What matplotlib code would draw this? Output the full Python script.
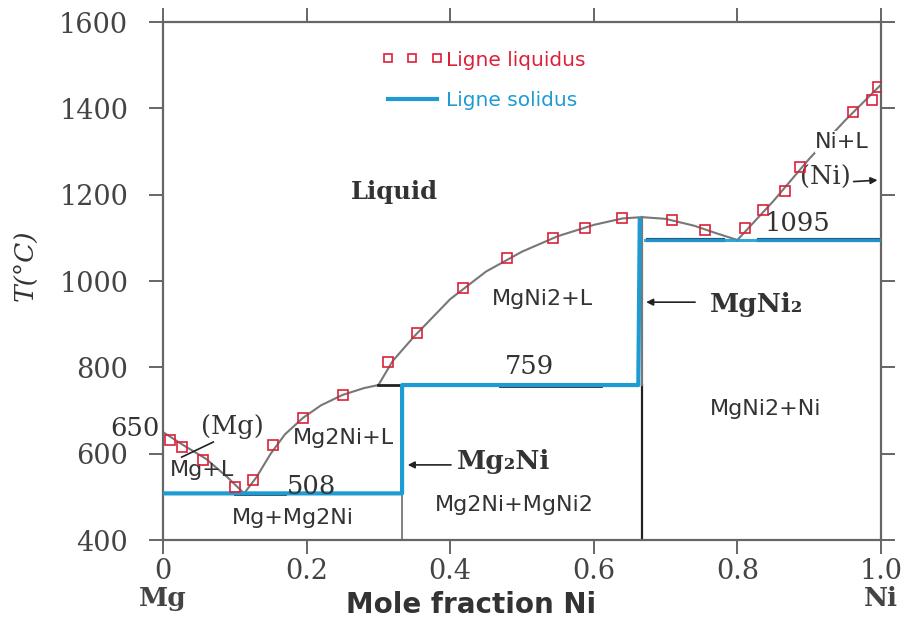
import matplotlib
matplotlib.use("Agg")
import matplotlib.pyplot as plt
from matplotlib.lines import Line2D

# ---------------- data ----------------
# liquidus curve (gray line), branches
liq_mg_x = [0.0, 0.03, 0.06, 0.09, 0.113]
liq_mg_t = [650, 618, 588, 545, 508]
liq_mg2ni_x = [0.113, 0.13, 0.15, 0.17, 0.195, 0.22, 0.25, 0.28, 0.30]
liq_mg2ni_t = [508, 545, 600, 645, 683, 712, 736, 752, 759]
liq_mgni2_x = [0.30, 0.32, 0.35, 0.40, 0.45, 0.50, 0.55, 0.60, 0.64, 0.667, 0.70, 0.74, 0.77, 0.80]
liq_mgni2_t = [759, 815, 872, 958, 1022, 1068, 1104, 1130, 1145, 1148, 1144, 1128, 1111, 1095]
liq_ni_x = [0.80, 0.85, 0.90, 0.95, 1.0]
liq_ni_t = [1095, 1185, 1283, 1372, 1455]

# measured liquidus points (red squares)
pts_x = [0.010, 0.026, 0.056, 0.100, 0.126, 0.153, 0.195, 0.251, 0.313, 0.354,
         0.418, 0.479, 0.543, 0.588, 0.639, 0.709, 0.755, 0.810, 0.836, 0.866,
         0.887, 0.961, 0.987, 0.996]
pts_t = [632, 616, 586, 523, 539, 620, 683, 736, 813, 880,
         984, 1053, 1100, 1123, 1146, 1141, 1118, 1123, 1164, 1208,
         1264, 1392, 1419, 1449]

# solidus (blue)
sol_x = [0.0, 0.333, 0.333, 0.662, 0.664]
sol_t = [508, 508, 759, 759, 1142]
sol2_x = [0.672, 1.0]
sol2_t = [1095, 1095]

# invariant temperatures
t_eut1, t_per, t_eut2 = 508, 759, 1095

xticks = [0, 0.2, 0.4, 0.6, 0.8, 1.0]
xticklabels = ["0", "0.2", "0.4", "0.6", "0.8", "1.0"]
yticks = [400, 600, 800, 1000, 1200, 1400, 1600]

GRAY = "#777777"
DARK = "#222222"
BLUE = "#1e9bd3"
RED = "#dc2038"
TXT = "#333333"
SERIF = "DejaVu Serif"
SANS = "DejaVu Sans"

fig = plt.figure(figsize=(9.06, 6.24), dpi=100)
ax = fig.add_axes([0.1799, 0.1346, 0.7925, 0.8301])
ax.set_xlim(0, 1.0)
ax.set_ylim(400, 1600)

# gray structural lines
for xs, ts in [(liq_mg_x, liq_mg_t), (liq_mg2ni_x, liq_mg2ni_t),
               (liq_mgni2_x, liq_mgni2_t), (liq_ni_x, liq_ni_t)]:
    ax.plot(xs, ts, color=GRAY, lw=1.5, zorder=2)
ax.plot([0.333, 0.333], [400, t_per], color=GRAY, lw=1.3, zorder=2)
ax.plot([0.667, 0.667], [400, t_per], color=DARK, lw=1.6, zorder=2)
ax.plot([0.667, 0.667], [t_per, 1148], color=GRAY, lw=1.6, zorder=2)
ax.plot([0.10, 0.17], [t_eut1 - 2, t_eut1 - 2], color=DARK, lw=2, zorder=2)
ax.plot([0.30, 0.333], [t_per, t_per], color=DARK, lw=2, zorder=2)
ax.plot([0.47, 0.61], [t_per - 3, t_per - 3], color=DARK, lw=2, zorder=2)
ax.plot([0.675, 0.78], [t_eut2, t_eut2], color="#245a80", lw=3, zorder=2)
ax.plot([0.83, 1.0], [t_eut2, t_eut2], color="#245a80", lw=3, zorder=2)
ax.plot([0.026, 0.07], [592, 627], color=DARK, lw=1.2, zorder=2)   # (Mg) leader

# solidus
ax.plot(sol_x, sol_t, color=BLUE, lw=3, zorder=3, solid_joinstyle="round")
ax.plot(sol2_x, sol2_t, color=BLUE, lw=2.2, zorder=3, alpha=0.9)

# measured liquidus points
ax.plot(pts_x, pts_t, ls="none", marker="s", ms=7, mfc="none", mec=RED,
        mew=1.2, zorder=5)

# legend
h1 = Line2D([], [], ls="none", marker="s", ms=5.5, mfc="none", mec=RED, mew=1.2)
h2 = Line2D([], [], color=BLUE, lw=3)
leg = ax.legend([h1, h2], ["Ligne liquidus", "Ligne solidus"], loc="upper left",
                bbox_to_anchor=(0.28, 0.98), frameon=False, numpoints=3,
                handlelength=3.0, handletextpad=0.15, labelspacing=1.05,
                prop={"family": SANS, "size": 14.5})
leg.get_texts()[0].set_color(RED)
leg.get_texts()[1].set_color(BLUE)

# region labels
ax.text(0.323, 1206, "Liquid", family=SERIF, fontweight="bold", fontsize=17.5,
        color=TXT, ha="center", va="center")
sans_kw = dict(family=SANS, fontsize=16, color=TXT, ha="center", va="center")
serif_kw = dict(family=SERIF, fontsize=18.5, color=TXT, ha="center", va="center")
ax.text(0.528, 958, "MgNi2+L", **sans_kw)
ax.text(0.251, 636, "Mg2Ni+L", **sans_kw)
ax.text(0.054, 562, "Mg+L", **sans_kw)
ax.text(0.181, 450, "Mg+Mg2Ni", **sans_kw)
ax.text(0.489, 480, "Mg2Ni+MgNi2", **sans_kw)
ax.text(0.840, 703, "MgNi2+Ni", **sans_kw)
ax.text(0.946, 1322, "Ni+L", bbox=dict(fc="white", ec="none", pad=0.5), zorder=4,
        **sans_kw)
ax.text(0.096, 664, "(Mg)", **serif_kw)
ax.text(-0.039, 658, "650", clip_on=False, **serif_kw)
ax.text(0.207, 524, "508", **serif_kw)
ax.text(0.510, 801, "759", **serif_kw)
ax.text(0.884, 1134, "1095", **serif_kw)
ax.text(0.922, 1240, "(Ni)", **serif_kw)
ax.text(0.475, 582, "Mg\u2082Ni", family=SERIF, fontsize=19, fontweight="bold",
        color=TXT, ha="center", va="center")
ax.text(0.827, 945, "MgNi\u2082", family=SERIF, fontsize=19, fontweight="bold",
        color=TXT, ha="center", va="center")

arrow_kw = dict(arrowstyle="-|>", color=DARK, lw=1.2, mutation_scale=10)
ax.annotate("", xy=(0.337, 574), xytext=(0.405, 574), arrowprops=arrow_kw)
ax.annotate("", xy=(0.669, 951), xytext=(0.745, 951), arrowprops=arrow_kw)
ax.annotate("", xy=(0.999, 1234), xytext=(0.958, 1230), arrowprops=arrow_kw)

# axes styling
for s in ax.spines.values():
    s.set_color("#666666")
    s.set_linewidth(1.6)
ax.set_xticks(xticks)
ax.set_xticklabels(xticklabels)
ax.set_yticks(yticks)
ax.tick_params(direction="out", length=10, width=1.4, color="#666666",
               top=True, right=True, labelsize=19.5, labelcolor="#444444")
ax.tick_params(axis="y", pad=15)
ax.tick_params(axis="x", pad=3)
for lab in ax.get_xticklabels() + ax.get_yticklabels():
    lab.set_family(SERIF)

ax.text(0.0, -0.112, "Mg", transform=ax.transAxes, family=SERIF, fontsize=19,
        color="#444444", ha="center", va="center", fontweight="bold")
ax.text(1.0, -0.112, "Ni", transform=ax.transAxes, family=SERIF, fontsize=19,
        color="#444444", ha="center", va="center", fontweight="bold")
ax.text(0.429, -0.125, "Mole fraction Ni", transform=ax.transAxes, family=SANS,
        fontsize=20, fontweight="bold", color="#333333", ha="center", va="center")
ax.text(-0.192, 0.53, "T(\u00b0C)", transform=ax.transAxes, family=SERIF,
        fontsize=19, style="italic", color="#333333", rotation=90,
        ha="center", va="center")

fig.savefig("out.png", dpi=100)
